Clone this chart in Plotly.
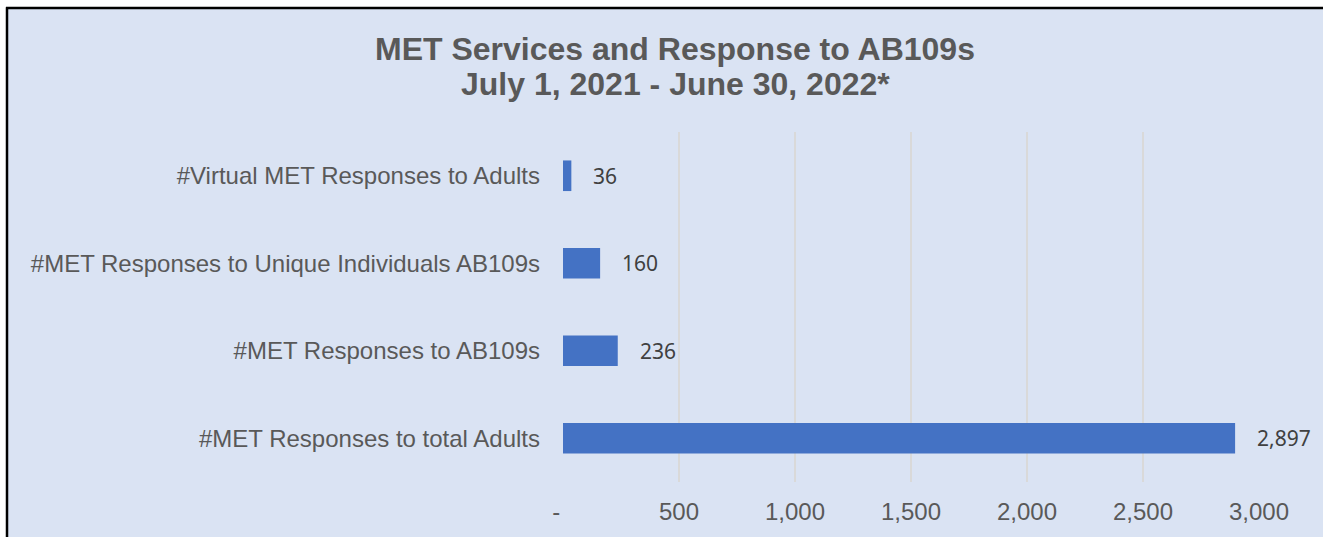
import plotly.graph_objects as go

# Chart data (top to bottom)
categories = [
    "#Virtual MET Responses to Adults",
    "#MET Responses to Unique Individuals AB109s",
    "#MET Responses to AB109s",
    "#MET Responses to total Adults",
]
values = [36, 160, 236, 2897]
x_ticks = [0, 500, 1000, 1500, 2000, 2500, 3000]
x_tick_labels = ["-\u00a0\u00a0", "500", "1,000", "1,500", "2,000", "2,500", "3,000"]

title_line1 = "MET Services and Response to AB109s"
title_line2 = "July 1, 2021 - June 30, 2022*"

BG = "#DAE3F3"
BAR = "#4472C4"
GREY = "#595959"

# Plot area in pixels
W, H = 1323, 537
L, R, T, B = 563, 64, 132, 49
PW, PH = W - L - R, H - T - B


def px_x(p):
    return (p - L) / PW


def px_y(p):
    return (H - B - p) / PH


fig = go.Figure()
fig.add_trace(go.Bar(
    y=categories,
    x=values,
    orientation="h",
    marker=dict(color=BAR, line=dict(width=0)),
    width=0.35,
    hoverinfo="x+y",
))

annotations = []
for c, v in zip(categories, values):
    annotations.append(dict(
        x=v, y=c, xref="x", yref="y",
        text=f"{v:,}", showarrow=False,
        xanchor="left", yanchor="middle", xshift=20,
        font=dict(family="Noto Sans", size=21, color="#404040"),
    ))

annotations.append(dict(
    x=px_x(675), y=px_y(48), xref="paper", yref="paper",
    text=f"<b>{title_line1}</b>", showarrow=False,
    xanchor="center", yanchor="middle",
    font=dict(family="Liberation Sans", size=32, color=GREY),
))
annotations.append(dict(
    x=px_x(675), y=px_y(83), xref="paper", yref="paper",
    text=f"<b>{title_line2}</b>", showarrow=False,
    xanchor="center", yanchor="middle",
    font=dict(family="Liberation Sans", size=32, color=GREY),
))

# Chart-area panel: filled background with a left and top border
frame = [
    dict(type="rect", xref="paper", yref="paper", layer="below",
         x0=px_x(7), x1=px_x(1400), y0=px_y(600), y1=px_y(6),
         fillcolor=BG, line=dict(width=0)),
    dict(type="line", xref="paper", yref="paper", layer="below",
         x0=px_x(7), x1=px_x(7), y0=px_y(600), y1=px_y(5),
         line=dict(color="black", width=2.5)),
    dict(type="line", xref="paper", yref="paper", layer="below",
         x0=px_x(6), x1=px_x(1400), y0=px_y(6), y1=px_y(6),
         line=dict(color="black", width=2.5)),
]

fig.update_layout(
    width=W, height=H,
    margin=dict(l=L, r=R, t=T, b=B, pad=0),
    paper_bgcolor="white",
    plot_bgcolor="rgba(0,0,0,0)",
    showlegend=False,
    bargap=0.65,
    annotations=annotations,
    shapes=frame,
    xaxis=dict(
        range=[0, 3000],
        tickvals=x_ticks, ticktext=x_tick_labels,
        showgrid=True, gridcolor="#D9D9D9", gridwidth=1.5,
        zeroline=False, showline=False, ticks="",
        ticklabelstandoff=13,
        tickfont=dict(family="Liberation Sans", size=24, color=GREY),
        fixedrange=True,
    ),
    yaxis=dict(
        categoryorder="array", categoryarray=categories,
        autorange="reversed",
        showgrid=False, zeroline=False, showline=False, ticks="",
        ticklabelstandoff=22,
        tickfont=dict(family="Liberation Sans", size=24, color=GREY),
        fixedrange=True,
    ),
)

fig.write_html("out.html", config=dict(displayModeBar=False))
